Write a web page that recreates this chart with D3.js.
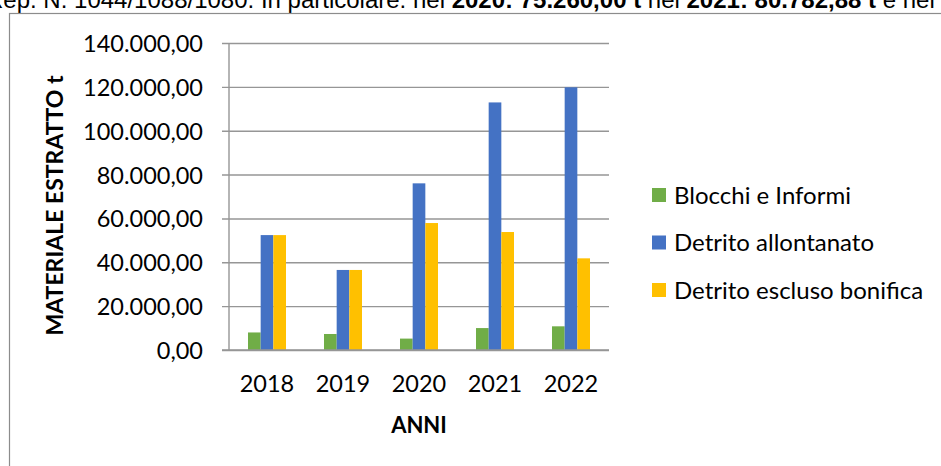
<!DOCTYPE html>
<html><head><meta charset="utf-8">
<script src="https://cdn.jsdelivr.net/npm/d3@7"></script>
<style>html,body{margin:0;padding:0;background:#fff;overflow:hidden}</style>
</head><body>
<svg id="c" width="941" height="466"></svg>
<script>
const years = ["2018","2019","2020","2021","2022"];
const blocchi = [8000, 7300, 5200, 10000, 10800];
const detritoAllontanato = [52400, 36500, 76000, 112900, 119800];
const detritoEscluso = [52400, 36500, 57900, 53800, 41800];
const seriesNames = ["Blocchi e Informi","Detrito allontanato","Detrito escluso bonifica"];
const seriesColors = ["#70AD47","#4472C4","#FFC000"];
const yTicks = [0,20000,40000,60000,80000,100000,120000,140000];
const yTitle = "MATERIALE ESTRATTO t";
const xTitle = "ANNI";

const series = [blocchi, detritoAllontanato, detritoEscluso];
const svg = d3.select("#c");
const font = "Lato, Carlito, Calibri, sans-serif";
const itLocale = d3.formatLocale({decimal:",", thousands:".", grouping:[3], currency:["","€"]});
const fmt = itLocale.format(",.2f");

// text line above the chart, cut by the top edge as in the reference
const headLine = svg.append("text").attr("x", -14).attr("y", 8)
  .attr("font-family","Liberation Sans, Arial, sans-serif").attr("font-size", 24).attr("fill","#000");
headLine.append("tspan").text("Rep. N. 1044/1088/1080. In particolare: nel ");
headLine.append("tspan").attr("font-weight","bold").text("2020: 75.260,00 t");
headLine.append("tspan").text("  nel ");
headLine.append("tspan").attr("font-weight","bold").text("2021: 80.782,88 t");
headLine.append("tspan").text(" e nel");

// chart border (extends beyond the window)
svg.append("rect").attr("x",9.5).attr("y",13.5).attr("width",1000).attr("height",600)
  .attr("fill","#fff").attr("stroke","#8c8c8c").attr("stroke-width",1.2);

const L = 229, R = 609, T = 43, B = 350;
const x = d3.scaleBand().domain(years).range([L,R]).paddingInner(0.5).paddingOuter(0.25);
const xs = d3.scaleBand().domain(d3.range(series.length)).range([0, x.bandwidth()]);
const y = d3.scaleLinear().domain([0,140000]).range([B,T]);

// grid + y axis
const yAxis = d3.axisLeft(y).tickValues(yTicks).tickFormat(fmt).tickSize(-(R-L)).tickSizeOuter(0).tickPadding(0);
const gy = svg.append("g").attr("transform",`translate(${L},0)`).call(yAxis);
gy.select(".domain").remove();
gy.selectAll(".tick line").attr("stroke","#969696").attr("stroke-width",1.4).attr("x1",-7);
gy.selectAll(".tick text").attr("x",-26).attr("dy","0.36em")
  .attr("font-family",font).attr("font-size",23.5).attr("fill","#000");
svg.append("line").attr("x1",L).attr("x2",L).attr("y1",T).attr("y2",B)
  .attr("stroke","#969696").attr("stroke-width",1.4);

// bars
years.forEach((yr,i)=>{
  const g = svg.append("g").attr("transform",`translate(${x(yr)},0)`);
  g.selectAll("rect").data(series.map((s,k)=>({k, v:s[i]}))).join("rect")
    .attr("x",d=>xs(d.k)).attr("width",xs.bandwidth())
    .attr("y",d=>y(d.v)).attr("height",d=>y(0)-y(d.v))
    .attr("fill",d=>seriesColors[d.k]);
});
// baseline
svg.append("line").attr("x1",L-7).attr("x2",R).attr("y1",B).attr("y2",B)
  .attr("stroke","#969696").attr("stroke-width",1.4);

// x axis labels
const xAxis = d3.axisBottom(x).tickSize(0).tickPadding(0);
const gx = svg.append("g").attr("transform",`translate(0,${B})`).call(xAxis);
gx.select(".domain").remove();
gx.selectAll(".tick text").attr("y",42).attr("dy",0)
  .attr("font-family",font).attr("font-size",23.5).attr("fill","#000");

// axis titles
svg.append("text").attr("x",(L+R)/2).attr("y",433).attr("text-anchor","middle")
  .attr("font-family",font).attr("font-weight","bold").attr("font-size",22).text(xTitle);
svg.append("text").attr("transform",`translate(63,${(T+B)/2+9}) rotate(-90)`).attr("text-anchor","middle")
  .attr("font-family",font).attr("font-weight","bold").attr("font-size",23).text(yTitle);

// legend
const lg = svg.append("g");
seriesNames.forEach((n,k)=>{
  const cy = 195 + k*47.5;
  lg.append("rect").attr("x",652).attr("y",cy-7).attr("width",14).attr("height",14).attr("fill",seriesColors[k]);
  lg.append("text").attr("x",674).attr("y",cy).attr("dy","0.36em")
    .attr("font-family",font).attr("font-size",24).attr("fill","#000").text(n);
});
</script>
</body></html>
